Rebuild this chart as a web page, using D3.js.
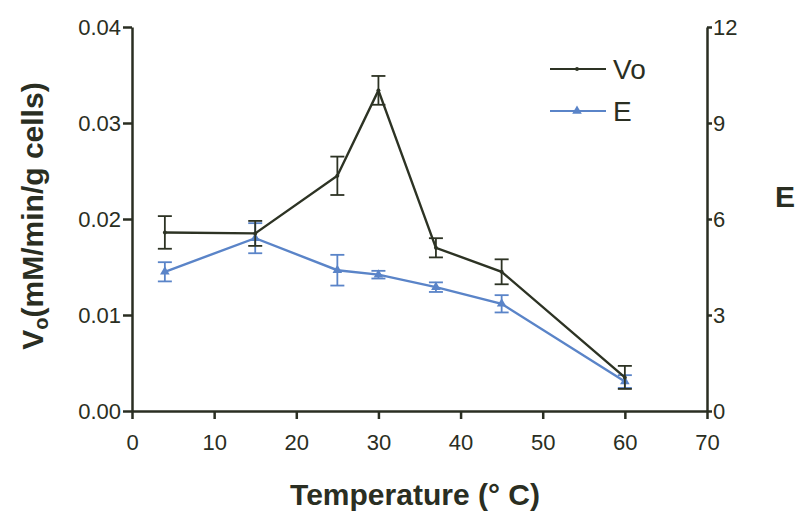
<!DOCTYPE html>
<html>
<head>
<meta charset="utf-8">
<script src="https://cdn.jsdelivr.net/npm/d3@7"></script>
<style>
  body { margin: 0; background: #fff; }
  svg { font-family: "Liberation Sans", Arial, sans-serif; }
  .axis path, .axis line { stroke: #2a2e22; stroke-width: 2.5; }
  .axis text { font-size: 22px; fill: #2a2e22; }
  .title { font-weight: bold; fill: #2a2e22; }
</style>
</head>
<body>
<svg id="chart" width="800" height="511"></svg>
<script>
// temperature (°C)
const temps = [4, 15, 25, 30, 37, 45, 60];
// Vo (mM/min/g cells), left axis
const vo = [0.0186, 0.0185, 0.0245, 0.0334, 0.0170, 0.0145, 0.0035];
const voErr = [0.0017, 0.0013, 0.0020, 0.0015, 0.0010, 0.0013, 0.0012];
// E, right axis
const eVal = [4.35, 5.4, 4.4, 4.26, 3.87, 3.35, 0.92];
const eErr = [0.30, 0.47, 0.48, 0.12, 0.15, 0.27, 0.2];

const xTicks = [0, 10, 20, 30, 40, 50, 60, 70];
const yLeftTicks = [0, 0.01, 0.02, 0.03, 0.04];
const yRightTicks = [0, 3, 6, 9, 12];

const dark = '#2d3324';
const blue = '#5a84c8';

const margin = {top: 27, right: 93, bottom: 100, left: 132};
const width = 800 - margin.left - margin.right;
const height = 511 - margin.top - margin.bottom;

const svg = d3.select('#chart');
const g = svg.append('g').attr('transform', `translate(${margin.left}, ${margin.top})`);

const x = d3.scaleLinear().domain([0, 70]).range([0, width]);
const yL = d3.scaleLinear().domain([0, 0.04]).range([height, 0]);
const yR = d3.scaleLinear().domain([0, 12]).range([height, 0]);

g.append('g').attr('class', 'axis')
  .attr('transform', `translate(0, ${height})`)
  .call(d3.axisBottom(x).tickValues(xTicks).tickSize(8).tickSizeOuter(0).tickPadding(15));

g.append('g').attr('class', 'axis')
  .call(d3.axisLeft(yL).tickValues(yLeftTicks).tickFormat(d3.format('.2f')).tickSize(9).tickSizeOuter(0).tickPadding(2));

g.append('g').attr('class', 'axis')
  .attr('transform', `translate(${x(70)}, 0)`)
  .call(d3.axisRight(yR).tickValues(yRightTicks).tickSize(5).tickSizeOuter(0).tickPadding(1));

g.selectAll('.axis .domain').attr('fill', 'none');

const voData = temps.map((t, i) => ({t, v: vo[i], err: voErr[i]}));
const eData = temps.map((t, i) => ({t, v: eVal[i], err: eErr[i]}));

function drawSeries(data, y, color, marker) {
  const s = g.append('g');
  const cap = 7;
  data.forEach(d => {
    const cx = x(d.t);
    const top = y(d.v + d.err), bot = y(d.v - d.err);
    s.append('line').attr('x1', cx).attr('x2', cx).attr('y1', top).attr('y2', bot)
      .attr('stroke', color).attr('stroke-width', 1.8);
    [top, bot].forEach(yy => s.append('line')
      .attr('x1', cx - cap).attr('x2', cx + cap).attr('y1', yy).attr('y2', yy)
      .attr('stroke', color).attr('stroke-width', 1.8));
  });
  s.append('path').datum(data)
    .attr('fill', 'none').attr('stroke', color).attr('stroke-width', 2.4)
    .attr('d', d3.line().x(d => x(d.t)).y(d => y(d.v)));
  s.selectAll('.m').data(data).enter().append('path')
    .attr('transform', d => `translate(${x(d.t)}, ${y(d.v)})`)
    .attr('d', marker)
    .attr('fill', color);
}

drawSeries(eData, yR, blue, d3.symbol(d3.symbolTriangle, 40));
drawSeries(voData, yL, dark, d3.symbol(d3.symbolCircle, 12));

// legend
const legend = svg.append('g').attr('transform', 'translate(550, 69)');
const items = [
  {label: 'Vo', color: dark, marker: d3.symbol(d3.symbolCircle, 12)},
  {label: 'E', color: blue, marker: d3.symbol(d3.symbolTriangle, 40)}
];
items.forEach((it, i) => {
  const row = legend.append('g').attr('transform', `translate(0, ${i * 42})`);
  row.append('line').attr('x1', 0).attr('x2', 56).attr('y1', 0).attr('y2', 0)
    .attr('stroke', it.color).attr('stroke-width', 2);
  row.append('path').attr('d', it.marker).attr('transform', 'translate(27, 0)').attr('fill', it.color);
  row.append('text').attr('x', 63).attr('y', 10).attr('font-size', 28).attr('fill', '#2a2e22').text(it.label);
});

// axis titles
const yt = svg.append('text').attr('class', 'title')
  .attr('transform', 'translate(43, 216) rotate(-90)')
  .attr('text-anchor', 'middle').attr('font-size', 30);
yt.append('tspan').text('V');
yt.append('tspan').attr('font-size', 20).attr('dy', 5).text('o');
yt.append('tspan').attr('dy', -5).text('(mM/min/g cells)');

svg.append('text').attr('class', 'title')
  .attr('x', 775).attr('y', 207).attr('font-size', 30).text('E');

svg.append('text').attr('class', 'title')
  .attr('x', 415).attr('y', 505).attr('text-anchor', 'middle').attr('font-size', 30)
  .text('Temperature (° C)');
</script>
</body>
</html>
